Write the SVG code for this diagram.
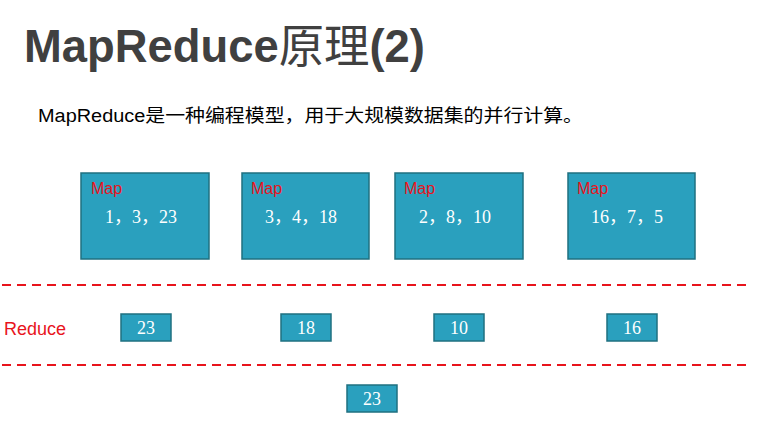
<svg xmlns="http://www.w3.org/2000/svg" width="760" height="438" viewBox="0 0 760 438">
<style>
.box{fill:#2aa0be;stroke:#1f7080;stroke-width:1.5}
.lbl{font-family:"Liberation Sans",Arial,sans-serif;font-size:16px;fill:#e8141c}
.num{font-family:"Liberation Serif","Times New Roman","Noto Sans CJK SC",serif;font-size:18px;fill:#fff}
.dash{stroke:#e8141c;stroke-width:2;stroke-dasharray:9,6;fill:none}
</style>
<rect width="760" height="438" fill="#fff"/>
<text x="24" y="62" textLength="401" lengthAdjust="spacingAndGlyphs" font-family="Liberation Sans,Arial,'Noto Sans CJK SC',sans-serif" font-weight="bold" font-size="46" fill="#404040">MapReduce<tspan font-weight="normal" font-family="'Noto Sans CJK SC',sans-serif">原理</tspan>(2)</text>
<text x="38" y="122" textLength="545" lengthAdjust="spacingAndGlyphs" font-family="Liberation Sans,Arial,'Noto Sans CJK SC',sans-serif" font-size="18" fill="#000">MapReduce是一种编程模型，用于大规模数据集的并行计算。</text>
<g id="connectors">
<line class="dash" x1="2" y1="285" x2="752" y2="285"/>
<line class="dash" x1="2" y1="365" x2="752" y2="365"/>
</g>
<g id="map1"><rect class="box" x="81" y="173" width="128" height="86"/><text class="lbl" x="91" y="194">Map</text><text class="num" x="105" y="223">1，3，23</text></g>
<g id="map2"><rect class="box" x="242" y="173" width="127" height="86"/><text class="lbl" x="251" y="194">Map</text><text class="num" x="265" y="223">3，4，18</text></g>
<g id="map3"><rect class="box" x="395" y="173" width="128" height="86"/><text class="lbl" x="404" y="194">Map</text><text class="num" x="419" y="223">2，8，10</text></g>
<g id="map4"><rect class="box" x="568" y="173" width="127" height="86"/><text class="lbl" x="577" y="194">Map</text><text class="num" x="591" y="223">16，7，5</text></g>
<g id="reduceLabel"><text x="4" y="335" font-family="Liberation Sans,Arial,sans-serif" font-size="18" fill="#e8141c">Reduce</text></g>
<g id="r1"><rect class="box" x="121" y="314" width="50" height="27"/><text class="num" x="146" y="334" text-anchor="middle">23</text></g>
<g id="r2"><rect class="box" x="281" y="314" width="50" height="27"/><text class="num" x="306" y="334" text-anchor="middle">18</text></g>
<g id="r3"><rect class="box" x="434" y="314" width="50" height="27"/><text class="num" x="459" y="334" text-anchor="middle">10</text></g>
<g id="r4"><rect class="box" x="607" y="314" width="50" height="27"/><text class="num" x="632" y="334" text-anchor="middle">16</text></g>
<g id="final"><rect class="box" x="347" y="385" width="50" height="27"/><text class="num" x="372" y="405" text-anchor="middle">23</text></g>
</svg>
